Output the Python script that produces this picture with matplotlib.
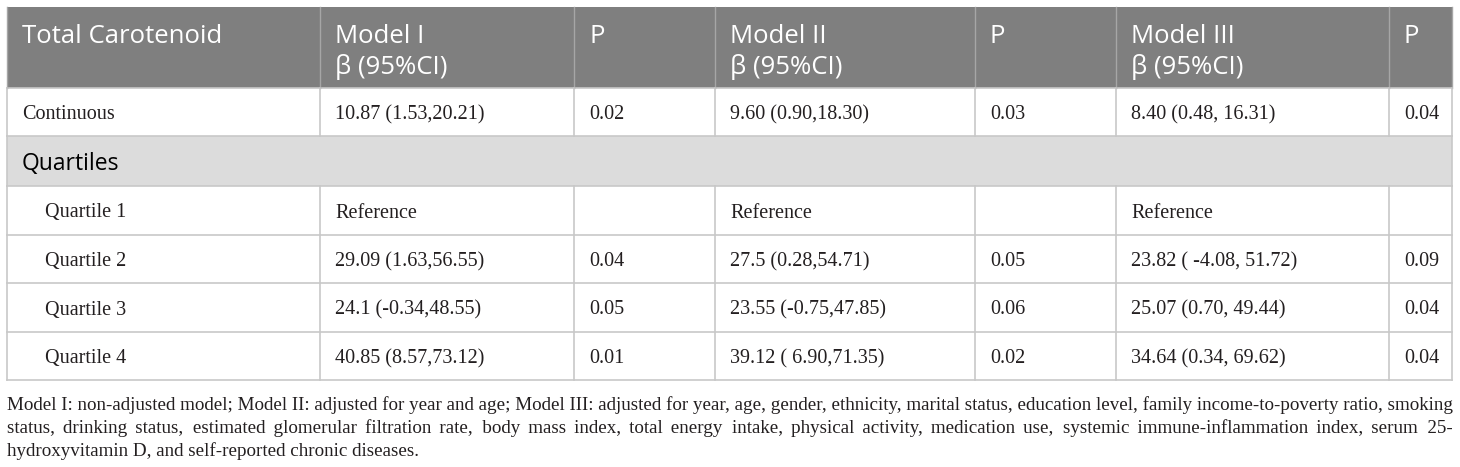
import matplotlib
matplotlib.use('Agg')
import matplotlib.pyplot as plt
from matplotlib.patches import Rectangle

# dados da tabela
cabecalho_l1 = ['Total Carotenoid', 'Model I', 'P', 'Model II', 'P', 'Model III', 'P']
cabecalho_l2 = ['', 'β (95%CI)', '', 'β (95%CI)', '', 'β (95%CI)', '']

linha_continua = ['Continuous', '10.87 (1.53,20.21)', '0.02', '9.60 (0.90,18.30)', '0.03',
                  '8.40 (0.48, 16.31)', '0.04']
grupo = 'Quartiles'
quartis = ['Quartile 1', 'Quartile 2', 'Quartile 3', 'Quartile 4']
modelo1 = ['Reference', '29.09 (1.63,56.55)', '24.1 (-0.34,48.55)', '40.85 (8.57,73.12)']
p1 = ['', '0.04', '0.05', '0.01']
modelo2 = ['Reference', '27.5 (0.28,54.71)', '23.55 (-0.75,47.85)', '39.12 ( 6.90,71.35)']
p2 = ['', '0.05', '0.06', '0.02']
modelo3 = ['Reference', '23.82 ( -4.08, 51.72)', '25.07 (0.70, 49.44)', '34.64 (0.34, 69.62)']
p3 = ['', '0.09', '0.04', '0.04']

nota_linhas = [
    "Model I: non-adjusted model; Model II: adjusted for year and age; Model III: adjusted for year, age, gender, ethnicity, marital status, education level, family income-to-poverty ratio, smoking",
    "status, drinking status, estimated glomerular filtration rate, body mass index, total energy intake, physical activity, medication use, systemic immune-inflammation index, serum 25-",
    "hydroxyvitamin D, and self-reported chronic diseases.",
]

# layout (pixels)
W, H = 1460, 467
colunas = [7, 320, 574, 715, 975, 1116, 1389, 1452]
linhas_y = [7, 88, 136, 186, 235, 283, 332, 380]
pad = 15

cor_cab = '#7f7f7f'
cor_grupo = '#dcdcdc'
cor_borda = '#c8c8c8'
cor_texto = '#231f20'
fonte_sans = ['Open Sans', 'DejaVu Sans']
fonte_serif = ['Liberation Serif', 'DejaVu Serif']
tam_cab = 18.5
tam_grupo = 16.5
tam_corpo = 14.5
tam_nota = 13.7

fig = plt.figure(figsize=(W / 100, H / 100), dpi=100)
ax = fig.add_axes([0, 0, 1, 1])
ax.set_xlim(0, W)
ax.set_ylim(H, 0)
ax.axis('off')

# fundo do cabeçalho e da linha de grupo
ax.add_patch(Rectangle((colunas[0], linhas_y[0]), colunas[-1] - colunas[0], linhas_y[1] - linhas_y[0],
                       facecolor=cor_cab, edgecolor='none'))
ax.add_patch(Rectangle((colunas[0], linhas_y[2]), colunas[-1] - colunas[0], linhas_y[3] - linhas_y[2],
                       facecolor=cor_grupo, edgecolor='none'))

# linhas horizontais
for y in linhas_y[1:]:
    ax.plot([colunas[0], colunas[-1]], [y, y], color=cor_borda, lw=1.2)

# linhas verticais
for x in colunas:
    ax.plot([x, x], [linhas_y[0], linhas_y[1]], color='#a6a6a6', lw=1.0)
    ax.plot([x, x], [linhas_y[1], linhas_y[2]], color=cor_borda, lw=1.2)
    ax.plot([x, x], [linhas_y[3], linhas_y[-1]], color=cor_borda, lw=1.2)
for x in (colunas[0], colunas[-1]):
    ax.plot([x, x], [linhas_y[2], linhas_y[3]], color=cor_borda, lw=1.2)

# cabeçalho
for i in range(7):
    x = colunas[i] + pad
    ax.text(x, 43, cabecalho_l1[i], color='white', fontsize=tam_cab, family=fonte_sans, va='baseline')
    if cabecalho_l2[i]:
        ax.text(x, 74, cabecalho_l2[i], color='white', fontsize=tam_cab, family=fonte_sans, va='baseline')

# linha contínua
ym = (linhas_y[1] + linhas_y[2]) / 2 + 7
for i, t in enumerate(linha_continua):
    ax.text(colunas[i] + pad, ym, t, color=cor_texto, fontsize=tam_corpo, family=fonte_serif, va='baseline')

# grupo
ax.text(colunas[0] + pad, (linhas_y[2] + linhas_y[3]) / 2 + 9, grupo, color='black', fontsize=tam_grupo,
        family=fonte_sans, va='baseline')

# quartis
for j, q in enumerate(quartis):
    ym = (linhas_y[3 + j] + linhas_y[4 + j]) / 2 + 7
    valores = [q, modelo1[j], p1[j], modelo2[j], p2[j], modelo3[j], p3[j]]
    for i, t in enumerate(valores):
        x = colunas[i] + pad + (23 if i == 0 else 0)
        ax.text(x, ym, t, color=cor_texto, fontsize=tam_corpo, family=fonte_serif, va='baseline')

# nota de rodapé justificada (uma string por linha, espaços extras com hair space)
fig.canvas.draw()
renderer = fig.canvas.get_renderer()


def largura(txt):
    t = ax.text(0, 0, txt, fontsize=tam_nota, family=fonte_serif)
    w = t.get_window_extent(renderer).width
    t.remove()
    return w


def justificar(linha, total):
    palavras = linha.split(' ')
    larg = [largura(p) for p in palavras]
    gap = (total - sum(larg)) / (len(palavras) - 1)
    s = palavras[0]
    direita = larg[0]
    for k in range(1, len(palavras)):
        direita += gap + larg[k]
        melhor, erro = None, None
        for n in range(0, 8):
            cand = s + ' ' + '\u200a' * n + palavras[k]
            e = abs(largura(cand) - direita)
            if erro is None or e < erro:
                melhor, erro = cand, e
        s = melhor
    return s


base_nota = [410, 433, 456]
x0, x1 = 7, 1452
for k, linha in enumerate(nota_linhas):
    txt = justificar(linha, x1 - x0) if k < len(nota_linhas) - 1 else linha
    ax.text(x0, base_nota[k], txt, color=cor_texto, fontsize=tam_nota, family=fonte_serif, va='baseline')

fig.savefig('out.png', dpi=100, facecolor='white')
